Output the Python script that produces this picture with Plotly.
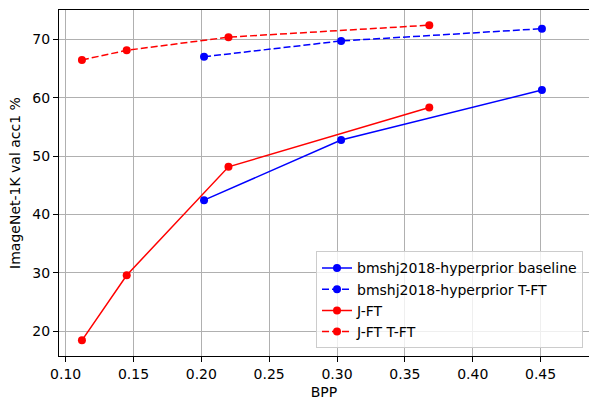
import plotly.graph_objects as go

# Data
base_bpp = [0.202, 0.303, 0.451]
base_acc = [42.45, 52.75, 61.3]
base_tft_bpp = [0.202, 0.303, 0.451]
base_tft_acc = [67.0, 69.7, 71.8]
jft_bpp = [0.112, 0.145, 0.220, 0.368]
jft_acc = [18.45, 29.6, 48.15, 58.3]
jft_tft_bpp = [0.112, 0.145, 0.220, 0.368]
jft_tft_acc = [66.45, 68.1, 70.35, 72.4]

names = ["bmshj2018-hyperprior baseline", "bmshj2018-hyperprior T-FT", "J-FT", "J-FT T-FT"]
xs = [base_bpp, base_tft_bpp, jft_bpp, jft_tft_bpp]
ys = [base_acc, base_tft_acc, jft_acc, jft_tft_acc]
colors = ["#0000ff", "#0000ff", "#ff0000", "#ff0000"]
dashes = ["solid", "7px,3px", "solid", "7px,3px"]

fig = go.Figure()
for i in range(4):
    fig.add_trace(go.Scatter(
        x=xs[i], y=ys[i], name=names[i], mode="lines+markers",
        line=dict(color=colors[i], width=1.5, dash=dashes[i]),
        marker=dict(color=colors[i], size=8),
        legendgroup=f"g{i}",
    ))

font = dict(family="DejaVu Sans", size=14, color="#000000")
fig.update_layout(
    width=589, height=401,
    margin=dict(l=59, r=0, t=10, b=45),
    paper_bgcolor="white", plot_bgcolor="white",
    font=font,
    showlegend=True,
    legend=dict(
        x=0.9887, y=0.022, xanchor="right", yanchor="bottom",
        bgcolor="rgba(255,255,255,0.8)", bordercolor="#cccccc", borderwidth=1,
        font=font, tracegroupgap=0, itemwidth=30,
    ),
    xaxis=dict(
        range=[0.0951, 0.4857], tickvals=[0.10, 0.15, 0.20, 0.25, 0.30, 0.35, 0.40, 0.45],
        ticktext=["0.10", "0.15", "0.20", "0.25", "0.30", "0.35", "0.40", "0.45"],
        showgrid=True, gridcolor="#b0b0b0", gridwidth=1,
        showline=True, linecolor="#000000", linewidth=1, mirror=True,
        ticks="outside", ticklen=5, tickwidth=1, tickcolor="#000000",
        zeroline=False,
        title=dict(text="BPP", font=font, standoff=6),
    ),
    yaxis=dict(
        range=[15.77, 75.0], tickvals=[20, 30, 40, 50, 60, 70],
        showgrid=True, gridcolor="#b0b0b0", gridwidth=1,
        showline=True, linecolor="#000000", linewidth=1, mirror=False,
        ticks="outside", ticklen=5, tickwidth=1, tickcolor="#000000",
        zeroline=False,
        title=dict(text="ImageNet-1K val acc1 %", font=font, standoff=8),
    ),
)

fig.write_html("out.html")
